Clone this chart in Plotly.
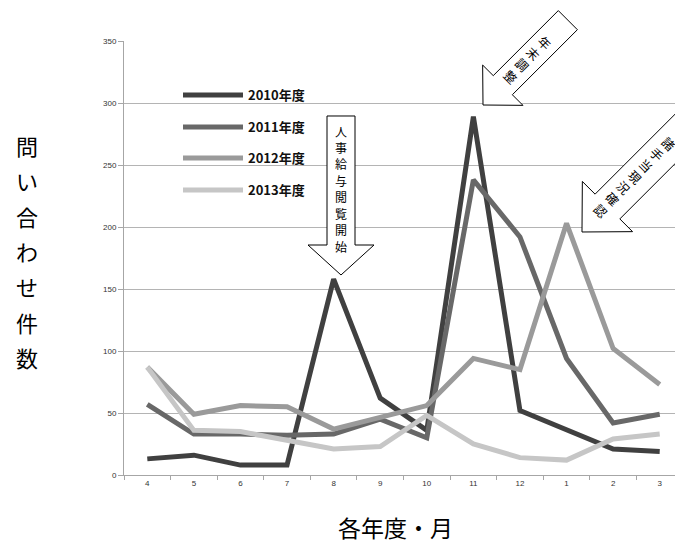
import math
import plotly.graph_objects as go

months = ["4", "5", "6", "7", "8", "9", "10", "11", "12", "1", "2", "3"]
series_names = ["2010年度", "2011年度", "2012年度", "2013年度"]
v2010 = [13, 16, 8, 8, 158, 62, 36, 289, 52, 36, 21, 19]
v2011 = [57, 33, 33, 32, 33, 45, 30, 238, 192, 94, 42, 49]
v2012 = [87, 49, 56, 55, 37, 46, 56, 94, 85, 203, 102, 73]
v2013 = [87, 36, 35, 28, 21, 23, 48, 25, 14, 12, 29, 33]
y_ticks = [0, 50, 100, 150, 200, 250, 300, 350]
arrow_texts = ["人事給与閲覧開始", "年末調整", "諸手当現況確認"]
y_title = "問い合わせ件数"
x_title = "各年度・月"

colors = ["#404040", "#686868", "#9a9a9a", "#c6c6c6"]
values = [v2010, v2011, v2012, v2013]

# page body has an 8px margin; work in screen pixels
OFF = 8
SW, SH = 683, 554
AX_L, AX_R, AX_T, AX_B = 124, 683, 41, 475
PW, PH = AX_R - AX_L, AX_B - AX_T
W, H = SW - OFF, SH - OFF


def px(x):
    return (x - AX_L) / PW


def py(y):
    return (AX_B - y) / PH


fig = go.Figure()
legend_ys = [95, 127, 158, 190]
for i, (name, vals, c) in enumerate(zip(series_names, values, colors)):
    lname = "legend" if i == 0 else f"legend{i+1}"
    fig.add_trace(go.Scatter(x=months, y=vals, mode="lines", name="<b>" + name + "</b>",
                             line=dict(color=c, width=5), legend=lname))

legend_common = dict(xanchor="left", yanchor="middle", bgcolor="rgba(0,0,0,0)",
                     borderwidth=0, itemwidth=60,
                     font=dict(family="Noto Sans CJK JP", size=13, color="#111"))
layout_legends = {}
for i, ly in enumerate(legend_ys):
    lname = "legend" if i == 0 else f"legend{i+1}"
    layout_legends[lname] = dict(x=px(178), y=py(ly), **legend_common)


def arrow_path(tip, d, L, bw, hw, hl):
    n = (-d[1], d[0])
    tx, ty = tip
    bx, by = tx - hl * d[0], ty - hl * d[1]
    ex, ey = tx - L * d[0], ty - L * d[1]
    pts = [
        (tx, ty),
        (bx + hw / 2 * n[0], by + hw / 2 * n[1]),
        (bx + bw / 2 * n[0], by + bw / 2 * n[1]),
        (ex + bw / 2 * n[0], ey + bw / 2 * n[1]),
        (ex - bw / 2 * n[0], ey - bw / 2 * n[1]),
        (bx - bw / 2 * n[0], by - bw / 2 * n[1]),
        (bx - hw / 2 * n[0], by - hw / 2 * n[1]),
    ]
    return "M " + " L ".join(f"{px(x):.5f},{py(y):.5f}" for x, y in pts) + " Z"


s2 = 1 / math.sqrt(2)
arrow_style = dict(type="path", xref="paper", yref="paper", fillcolor="white",
                   line=dict(color="black", width=1), layer="above")
shapes = [
    dict(path=arrow_path((341, 275), (0, 1), 159, 28, 66, 30), **arrow_style),
    dict(path=arrow_path((483, 105), (-s2, s2), 120, 27, 57, 28), **arrow_style),
    dict(path=arrow_path((582, 232), (-s2, s2), 150, 35, 71, 36), **arrow_style),
]

annotations = []


def place_chars(text, start, end, size, angle=0):
    n = len(text)
    for k, ch in enumerate(text):
        t = k / (n - 1) if n > 1 else 0
        x = start[0] + (end[0] - start[0]) * t
        y = start[1] + (end[1] - start[1]) * t
        annotations.append(dict(x=px(x), y=py(y), xref="paper", yref="paper",
                                xanchor="center", yanchor="middle", showarrow=False,
                                text=ch, textangle=angle,
                                font=dict(family="Noto Sans CJK JP", size=size, color="black")))


place_chars(arrow_texts[0], (341, 131), (341, 246), 12)
place_chars(arrow_texts[1], (545, 42), (511, 76), 12.5, 45)
place_chars(arrow_texts[2], (669, 143), (601, 210), 12.5, 45)
place_chars(y_title, (27, 145), (27, 357), 22)

annotations.append(dict(x=px(395), y=py(527), xref="paper", yref="paper",
                        xanchor="center", yanchor="middle", showarrow=False,
                        text=x_title,
                        font=dict(family="Noto Sans CJK JP", size=23, color="black")))

fig.update_layout(
    width=W, height=H,
    margin=dict(l=AX_L - OFF, r=SW - AX_R, t=AX_T - OFF, b=SH - AX_B),
    paper_bgcolor="white", plot_bgcolor="white",
    showlegend=True,
    shapes=shapes, annotations=annotations,
    xaxis=dict(type="category", categoryorder="array", categoryarray=months,
               showgrid=False, showline=True, linecolor="#a6a6a6", linewidth=1,
               ticks="outside", tickson="boundaries", ticklen=4, tickcolor="#a6a6a6",
               tickfont=dict(family="Liberation Sans", size=8, color="#333"),
               range=[-0.5, 11.5], zeroline=False),
    yaxis=dict(range=[0, 350], tickvals=y_ticks, showgrid=True, gridcolor="#b4b4b4",
               gridwidth=1, showline=True, linecolor="#a6a6a6", linewidth=1,
               ticks="outside", ticklen=5, tickcolor="#a6a6a6", zeroline=False,
               tickfont=dict(family="Liberation Sans", size=8, color="#333")),
    **layout_legends,
)

fig.write_html("out.html")
